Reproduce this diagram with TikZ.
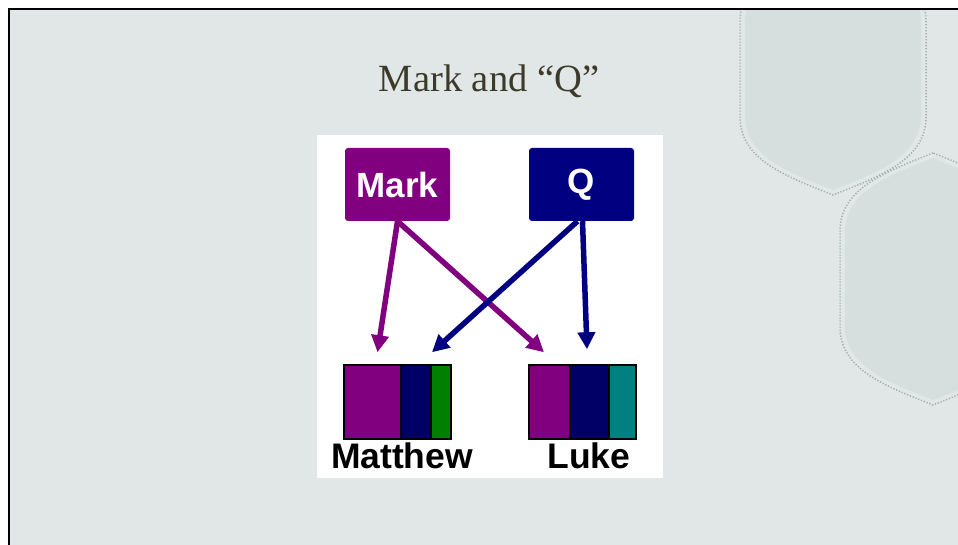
\documentclass[tikz,border=0pt]{standalone}
\usepackage{fontspec}
\setmainfont{Liberation Serif}
\newfontfamily\arialbold{Liberation Sans}[BoldFont={* Bold}]
\usetikzlibrary{arrows.meta,calc}
\definecolor{bgcol}{HTML}{E1E7E6}
\definecolor{shapefill}{HTML}{D7DFDE}
\definecolor{dotcol}{HTML}{A0AEAD}
\definecolor{titlecol}{HTML}{3C3A2B}
\definecolor{mkpurple}{HTML}{800080}
\definecolor{qnavy}{HTML}{000080}
\definecolor{qdark}{HTML}{000066}
\definecolor{mtgreen}{HTML}{008000}
\definecolor{lkteal}{HTML}{008080}
\tikzset{
  srcbox/.style={rounded corners=3pt, minimum width=105pt, minimum height=73pt,
    inner sep=0pt, text=white, font=\arialbold\bfseries\fontsize{35}{35}\selectfont},
  gospel/.style={draw=black, line width=1.5pt, minimum width=107pt, minimum height=74pt, inner sep=0pt},
  glabel/.style={anchor=base, inner sep=0pt, font=\arialbold\bfseries\fontsize{35.5}{35.5}\selectfont},
  markarrow/.style={draw=mkpurple, line width=5.5pt, -{Triangle[length=17pt,width=17pt]}},
  qarrow/.style={draw=qnavy, line width=5.5pt, -{Triangle[length=17pt,width=17pt]}},
  dotline/.style={draw=dotcol, line width=1.5pt, dash pattern=on 1.2pt off 1.8pt},
}
% shield shape: centre (#1,#2), half width #3, half height #4, curved part #5
\newcommand{\shieldpath}[5]{%
  (#1,#2+#4) .. controls (#1-0.5*#3,#2+#4-0.2*#3) and (#1-#3,#2+#4-0.45*#5) .. (#1-#3,#2+#4-#5)
  -- (#1-#3,#2-#4+#5)
  .. controls (#1-#3,#2-#4+0.45*#5) and (#1-0.5*#3,#2-#4+0.2*#3) .. (#1,#2-#4)
  .. controls (#1+0.5*#3,#2-#4+0.2*#3) and (#1+#3,#2-#4+0.45*#5) .. (#1+#3,#2-#4+#5)
  -- (#1+#3,#2+#4-#5)
  .. controls (#1+#3,#2+#4-0.45*#5) and (#1+0.5*#3,#2+#4-0.2*#3) .. cycle}
\begin{document}
\begin{tikzpicture}[x=1pt,y=1pt]
\useasboundingbox (0,0) rectangle (958,-545);
\fill[white] (0,0) rectangle (958,-545);
\fill[bgcol] (10,-10) rectangle (958,-545);
\begin{scope}
  \clip (10,-10) rectangle (958,-545);
  % shield 1
  \fill[shapefill] \shieldpath{833}{-69}{88}{121}{74};
  \path[dotline] \shieldpath{833}{-69}{93}{126}{78};
  % shield 2
  \fill[shapefill] \shieldpath{933}{-279}{88}{121}{74};
  \path[dotline] \shieldpath{933}{-279}{93}{126}{78};
\end{scope}
\draw[black, line width=2pt] (9,-545) -- (9,-9) -- (958,-9);

% title
\node[anchor=base, text=titlecol, font=\fontsize{38.5}{38.5}\selectfont, inner sep=0pt] (title) at (489,-92) {Mark and “Q”};

% white panel
\fill[white] (317,-135) rectangle (663,-478);

% source boxes
\node[srcbox, fill=mkpurple] (mark) at (397.5,-184.5) {Mark};
\node[srcbox, fill=qnavy] (q) at (581.5,-184.5) {Q};

% gospel boxes
\fill[mkpurple] (344,-365) rectangle (401,-439);
\fill[qdark] (401,-365) rectangle (431,-439);
\fill[mtgreen] (431,-365) rectangle (451,-439);
\draw[black, line width=1.5pt] (401,-365) -- (401,-439) (431,-365) -- (431,-439);
\node[gospel] (matthew) at (397.5,-402) {};

\fill[mkpurple] (529,-365) rectangle (570,-439);
\fill[qdark] (570,-365) rectangle (609,-439);
\fill[lkteal] (609,-365) rectangle (636,-439);
\draw[black, line width=1.5pt] (570,-365) -- (570,-439) (609,-365) -- (609,-439);
\node[gospel] (luke) at (582.5,-402) {};

\node[glabel] (matthewlabel) at (402,-468) {Matthew};
\node[glabel] (lukelabel) at (589,-468) {Luke};

% arrows
\draw[markarrow] (mark.south) -- ($(matthew.north)+(-20,12)$);
\draw[markarrow] (mark.south) -- ($(luke.north)+(-38.5,12)$);
\draw[qarrow] ($(q.south)+(-4,0)$) -- ($(matthew.north)+(34.5,12)$);
\draw[qarrow] ($(q.south)+(1,0)$) -- ($(luke.north)+(4.5,15)$);
\end{tikzpicture}
\end{document}
